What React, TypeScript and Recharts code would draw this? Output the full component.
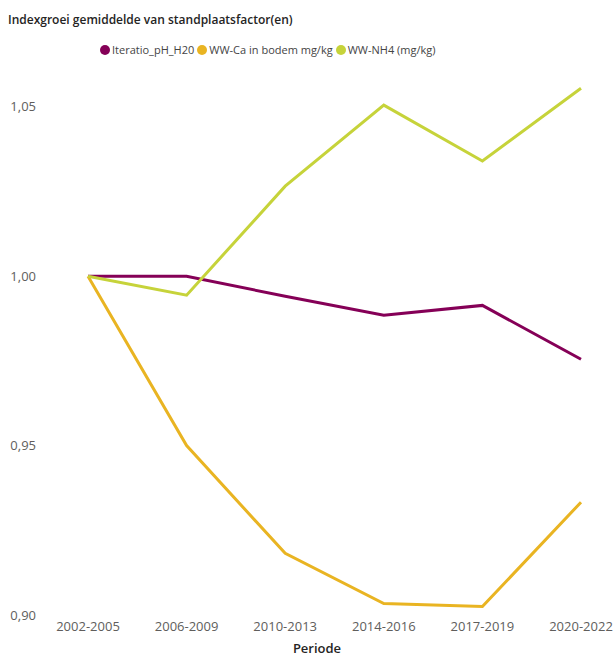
import React from 'react';
import { LineChart, Line, XAxis, YAxis } from 'recharts';

const periods = ['2002-2005', '2006-2009', '2010-2013', '2014-2016', '2017-2019', '2020-2022'];
const phH20 = [1.0, 1.0, 0.9941, 0.9885, 0.9914, 0.9755];
const caBodem = [1.0, 0.95, 0.9182, 0.9034, 0.9025, 0.9333];
const nh4 = [1.0, 0.9944, 1.0266, 1.0505, 1.034, 1.0555];
const yTicks = [0.9, 0.95, 1.0, 1.05];

const series = [
  { key: 'ph', name: 'Iteratio_pH_H20', color: '#850057' },
  { key: 'ca', name: 'WW-Ca in bodem mg/kg', color: '#E9B422' },
  { key: 'nh4', name: 'WW-NH4 (mg/kg)', color: '#C6D33A' },
];

const data = periods.map((p, i) => ({ periode: p, ph: phH20[i], ca: caBodem[i], nh4: nh4[i] }));

const FONT = '"Segoe UI", "Open Sans", sans-serif';

const App = () => {
  const fmt = (v: number) => v.toFixed(2).replace('.', ',');
  return (
    <div style={{ position: 'absolute', left: 0, top: 0, width: 616, height: 658, fontFamily: FONT, background: '#fff' }}>
      <div style={{ position: 'absolute', left: 8, top: 11, fontSize: 12, fontWeight: 600, color: '#252423' }}>
        Indexgroei gemiddelde van standplaatsfactor(en)
      </div>
      <div style={{ position: 'absolute', left: 100, top: 42, display: 'flex', alignItems: 'center', fontSize: 11, color: '#444' }}>
        {series.map(s => (
          <div key={s.key} style={{ display: 'flex', alignItems: 'center', marginRight: 3 }}>
            <span style={{ width: 10, height: 10, borderRadius: 5, background: s.color, marginRight: 2 }} />
            <span>{s.name}</span>
          </div>
        ))}
      </div>
      <LineChart width={616} height={658} data={data} margin={{ top: 73, right: 0, bottom: 0, left: 0 }}>
        <XAxis
          dataKey="periode"
          padding={{ left: 52, right: 35 }}
          axisLine={false}
          tickLine={false}
          tickSize={0}
          tickMargin={7}
          height={43}
          interval={0}
          tick={{ fill: '#605E5C', fontSize: 13, fontFamily: FONT }}
        />
        <YAxis
          domain={[0.9, 1.06]}
          ticks={yTicks}
          width={36}
          axisLine={false}
          tickLine={false}
          tickSize={0}
          tickMargin={0}
          tickFormatter={fmt}
          tick={{ fill: '#605E5C', fontSize: 13, fontFamily: FONT }}
        />
        {series.map(s => (
          <Line
            key={s.key}
            type="linear"
            dataKey={s.key}
            name={s.name}
            stroke={s.color}
            strokeWidth={3}
            dot={false}
            isAnimationActive={false}
          />
        ))}
      </LineChart>
      <div style={{ position: 'absolute', left: 0, width: 634, top: 640, textAlign: 'center', fontSize: 13, fontWeight: 600, color: '#252423', lineHeight: '16px' }}>
        Periode
      </div>
    </div>
  );
};

export default App;
